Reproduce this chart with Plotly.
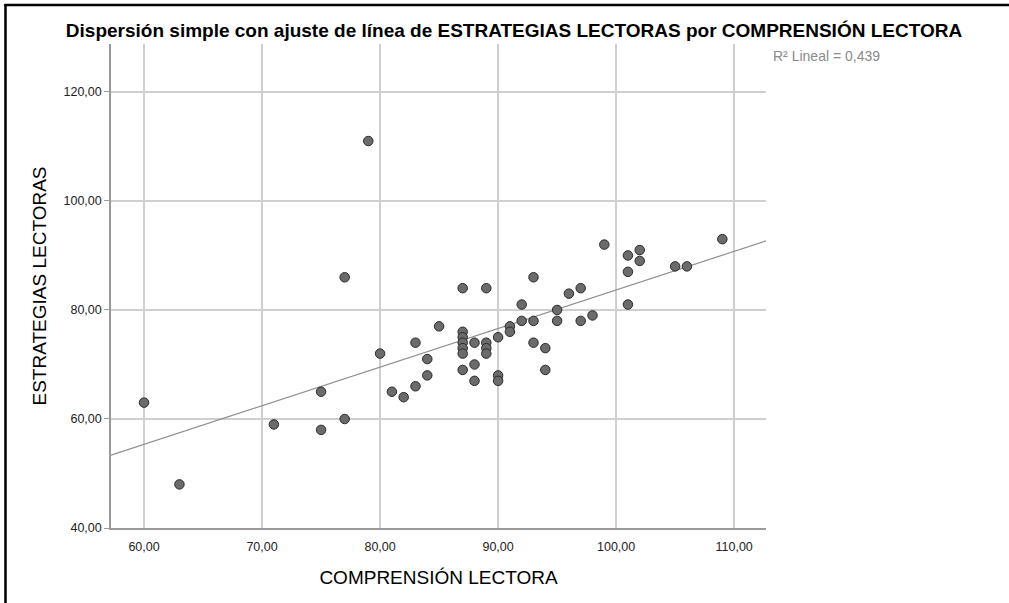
import numpy as np
import plotly.graph_objects as go

comprension = [60, 63, 71, 75, 75, 77, 77, 79, 80, 81, 82, 83, 83, 84, 84, 85,
               87, 87, 87, 87, 87, 87, 87, 88, 88, 88, 89, 89, 89, 89,
               90, 90, 90, 91, 91, 92, 92, 93, 93, 93, 94, 94, 95, 95,
               96, 97, 97, 98, 99, 101, 101, 101, 102, 102, 105, 106, 109]
estrategias = [63, 48, 59, 65, 58, 86, 60, 111, 72, 65, 64, 66, 74, 71, 68, 77,
               84, 76, 75, 74, 73, 72, 69, 74, 70, 67, 84, 74, 73, 72,
               75, 68, 67, 77, 76, 81, 78, 86, 78, 74, 73, 69, 80, 78,
               83, 84, 78, 79, 92, 90, 87, 81, 91, 89, 88, 88, 93]

x_ticks = [60, 70, 80, 90, 100, 110]
y_ticks = [40, 60, 80, 100, 120]
x_range = [57.2, 112.7]
y_range = [40, 128.8]

title = "Dispersión simple con ajuste de línea de ESTRATEGIAS LECTORAS por COMPRENSIÓN LECTORA"
r2_label = "R² Lineal = 0,439"

slope, intercept = np.polyfit(comprension, estrategias, 1)
fit_x = np.array(x_range)
fit_y = slope * fit_x + intercept

fig = go.Figure()
fig.add_trace(go.Scatter(x=fit_x, y=fit_y, mode="lines",
                         line=dict(color="#8f8f8f", width=1.2),
                         hoverinfo="skip", showlegend=False, cliponaxis=True))
fig.add_trace(go.Scatter(x=comprension, y=estrategias, mode="markers",
                         marker=dict(size=9.5, color="#6b6b6b",
                                     line=dict(color="#2a2a2a", width=1)),
                         showlegend=False, cliponaxis=False))

L, R, T, B = 111, 243, 44, 75
W, H = 1009, 603
pw, ph = W - L - R, H - T - B

def px_x(px):
    return (px - L) / pw

def px_y(py):
    return 1 - (py - T) / ph

FONT = "Liberation Sans, Arial, sans-serif"

fig.update_layout(
    width=W, height=H,
    margin=dict(l=L, r=R, t=T, b=B),
    paper_bgcolor="white", plot_bgcolor="white",
    separators=",.",
    font=dict(family=FONT, color="#000000"),
    title=dict(text=title, xref="paper", x=px_x(514), xanchor="center",
               yref="container", y=1 - 30 / H, yanchor="middle",
               font=dict(size=19, color="#000000", family=FONT, weight="bold")),
    xaxis=dict(range=x_range, tickvals=x_ticks, tickformat=".2f",
               showgrid=True, gridcolor="#cfcfcf", gridwidth=1.5,
               showline=True, linecolor="#9a9a9a", linewidth=1.5,
               ticks="", zeroline=False, ticklabelstandoff=6,
               tickfont=dict(size=12.5, color="#222222"),
               title=dict(text="COMPRENSIÓN LECTORA", font=dict(size=19, color="#000000"), standoff=18)),
    yaxis=dict(range=y_range, tickvals=y_ticks, tickformat=".2f",
               showgrid=True, gridcolor="#cfcfcf", gridwidth=1.5,
               showline=True, linecolor="#9a9a9a", linewidth=1.5,
               ticks="outside", ticklen=5, tickcolor="#9a9a9a", zeroline=False,
               tickfont=dict(size=12.5, color="#222222"),
               title=dict(text="ESTRATEGIAS LECTORAS", font=dict(size=19, color="#000000"), standoff=12)),
    annotations=[dict(text=r2_label, xref="paper", yref="paper",
                      x=px_x(771), y=px_y(56), xanchor="left", yanchor="middle",
                      showarrow=False, font=dict(size=14, color="#8a8a8a"))],
    shapes=[
        dict(type="line", xref="paper", yref="paper",
             x0=px_x(5.5), x1=px_x(5.5), y0=px_y(4), y1=px_y(610),
             line=dict(color="#000000", width=2.5)),
        dict(type="line", xref="paper", yref="paper",
             x0=px_x(4.3), x1=px_x(1015), y0=px_y(5), y1=px_y(5),
             line=dict(color="#000000", width=2.5)),
    ],
)

fig.write_html("out.html", config={"displayModeBar": False},
               post_script="document.body.style.margin='0';")
